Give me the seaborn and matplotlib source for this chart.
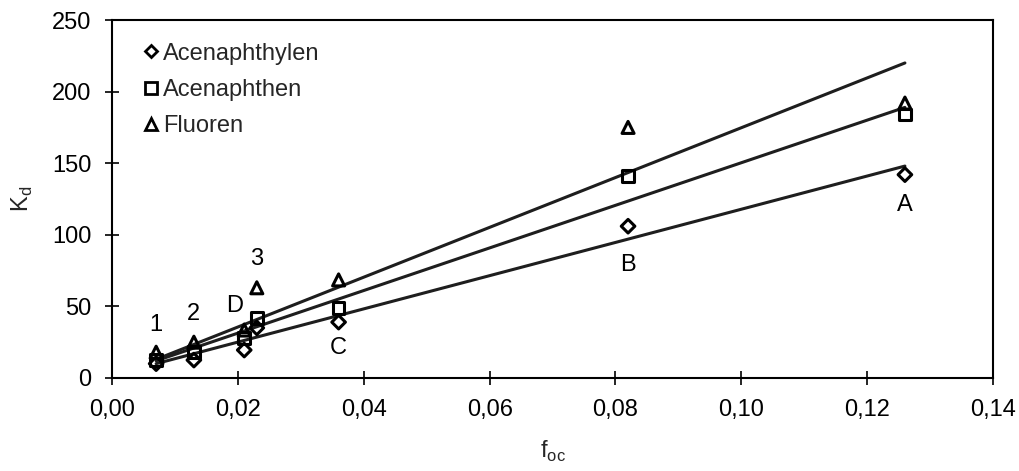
import numpy as np
import pandas as pd
import matplotlib
matplotlib.use("Agg")
import matplotlib.pyplot as plt
import seaborn as sns
from matplotlib.lines import Line2D

# ---- data ----
foc = [0.007, 0.013, 0.021, 0.023, 0.036, 0.082, 0.126]
acenaphthylen = [10, 12.5, 19.5, 35, 39, 106, 142]
acenaphthen = [12.5, 18, 28, 42, 49, 141, 184]
fluoren = [18, 25, 33.5, 63, 68.5, 175, 192]
series_names = ["Acenaphthylen", "Acenaphthen", "Fluoren"]

# regression lines (endpoints)
fit_x = [0.007, 0.126]
fit_acenaphthylen = [10, 148]
fit_acenaphthen = [12, 189]
fit_fluoren = [13, 220]

# point annotations
ann_text = ["1", "2", "D", "3", "C", "B", "A"]
ann_x = [0.007, 0.013, 0.0195, 0.023, 0.036, 0.082, 0.126]
ann_y = [37, 45, 50, 83, 21, 79, 121]

x_ticks = [0.00, 0.02, 0.04, 0.06, 0.08, 0.10, 0.12, 0.14]
y_ticks = [0, 50, 100, 150, 200, 250]

df = pd.DataFrame({
    "foc": foc * 3,
    "Kd": acenaphthylen + acenaphthen + fluoren,
    "series": [s for s in series_names for _ in foc],
})

sns.set_style("ticks")
plt.rcParams["font.family"] = ["Liberation Sans", "DejaVu Sans"]

fig = plt.figure(figsize=(10.19, 4.71), dpi=100)
ax = fig.add_axes([0.110, 0.1975, 0.8645, 0.760])

for fy in (fit_acenaphthylen, fit_acenaphthen, fit_fluoren):
    sns.lineplot(x=fit_x, y=fy, ax=ax, color="#1e1e1e", linewidth=2.2, zorder=2)

sns.scatterplot(data=df, x="foc", y="Kd", style="series", size="series", ax=ax,
                markers={"Acenaphthylen": "D", "Acenaphthen": "s", "Fluoren": "^"},
                sizes={"Acenaphthylen": 48, "Acenaphthen": 70, "Fluoren": 75},
                facecolor="none", edgecolor="black", linewidth=2.2,
                zorder=3, legend=False)

handles = [
    Line2D([], [], marker="D", linestyle="none", markersize=6, markerfacecolor="none",
           markeredgecolor="black", markeredgewidth=2),
    Line2D([], [], marker="s", linestyle="none", markersize=8, markerfacecolor="none",
           markeredgecolor="black", markeredgewidth=2),
    Line2D([], [], marker="^", linestyle="none", markersize=8.5, markerfacecolor="none",
           markeredgecolor="black", markeredgewidth=2),
]
leg = ax.legend(handles, series_names, loc="upper left", frameon=False,
                fontsize=17, handlelength=0.5, handletextpad=0.25,
                labelspacing=0.6, borderaxespad=0.0, bbox_to_anchor=(0.027, 0.963))

for t, xx, yy in zip(ann_text, ann_x, ann_y):
    ax.text(xx, yy, t, fontsize=17, ha="center", va="center", color="black")

ax.set_xlim(0, 0.14)
ax.set_ylim(0, 250)
ax.set_xticks(x_ticks)
ax.set_yticks(y_ticks)
ax.set_xticklabels([f"{v:.2f}".replace(".", ",") for v in x_ticks])
ax.set_yticklabels([str(v) for v in y_ticks])
ax.tick_params(direction="inout", length=10, width=1.2, labelsize=17, pad=10,
               colors="black")
for sp in ax.spines.values():
    sp.set_visible(True)
    sp.set_linewidth(1.5)
    sp.set_color("black")

ax.set_xlabel("f$_{\\mathregular{oc}}$", fontsize=17, labelpad=13)
ax.set_ylabel("K$_{\\mathregular{d}}$", fontsize=17, labelpad=12)

fig.savefig("out.png", dpi=100)
